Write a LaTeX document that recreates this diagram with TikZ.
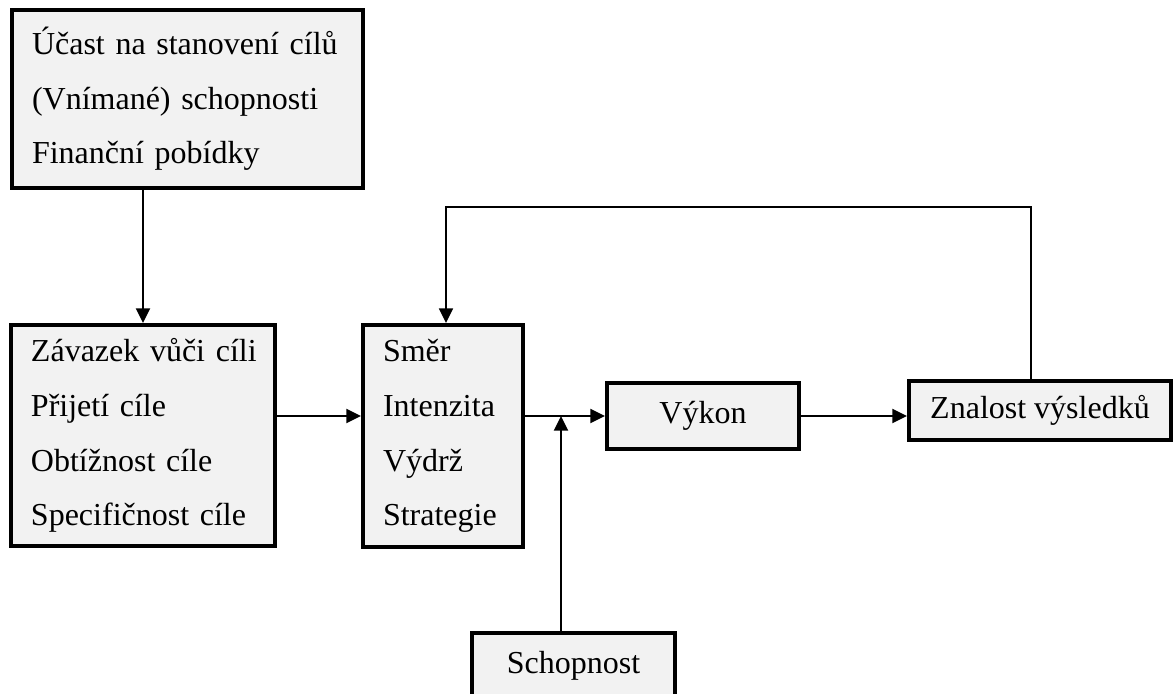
\documentclass[tikz,border=0pt]{standalone}
\usepackage{fontspec}
\setmainfont{Liberation Serif}
\usepackage{tikz}
\usetikzlibrary{arrows.meta}
\definecolor{vypln}{HTML}{F2F2F2}

\begin{document}
\begin{tikzpicture}[
    x=0.75pt, y=-0.75pt,
    blok/.style={draw, line width=3pt, fill=vypln, inner xsep=15pt, inner ysep=0pt,
      font=\fontsize{24}{41}\selectfont},
    seznam/.style={blok, align=left},
    sipka/.style={line width=1.6pt, -{Triangle[length=11pt,width=10.5pt]}},
    zpetna/.style={line width=1.2pt, -{Triangle[length=11pt,width=10.5pt]}},
  ]
  \useasboundingbox (0,0) rectangle (1174,693);
  \node[seznam, text width=233.25pt, minimum width=263.25pt, minimum height=133.5pt]
    (ucast) at (187.5,99) {Účast~na~stanovení~cílů\\(Vnímané)~schopnosti\\Finanční~pobídky};
  \node[seznam, text width=168pt, minimum width=198pt, minimum height=165.75pt]
    (zavazek) at (143,435.5) {Závazek~vůči~cíli\\Přijetí~cíle\\Obtížnost~cíle\\Specifičnost~cíle};
  \node[seznam, text width=90pt, minimum width=120pt, minimum height=166.5pt]
    (smer) at (443,436) {Směr\\Intenzita\\Výdrž\\Strategie};
  \node[blok, minimum width=144pt, minimum height=49.5pt] (vykon) at (703,416) {Výkon};
  \node[blok, minimum width=196.5pt, minimum height=44.25pt] (znalost) at (1040,410.5) {Znalost výsledků};
  \node[blok, minimum width=152.25pt, minimum height=49.5pt] (schop) at (573.5,666) {Schopnost};

  \coordinate (spoj) at (561,416);
  \coordinate (odbocka) at (1031,207);
  \coordinate (zlom) at (446,207);

  \draw[sipka] (ucast.south -| zavazek.north) -- (zavazek.north);
  \draw[sipka] (zavazek.east |- vykon.center) -- (smer.west |- vykon.center);
  \draw[sipka] (smer.east |- vykon.center) -- (vykon.west);
  \draw[sipka] (spoj |- schop.north) -- (spoj);
  \draw[sipka] (vykon.east) -- (znalost.west |- vykon.center);
  % zpetna vazba
  \draw[zpetna] (odbocka |- znalost.north) -- (odbocka) -- (zlom) -- (zlom |- smer.north);
\end{tikzpicture}
\end{document}
